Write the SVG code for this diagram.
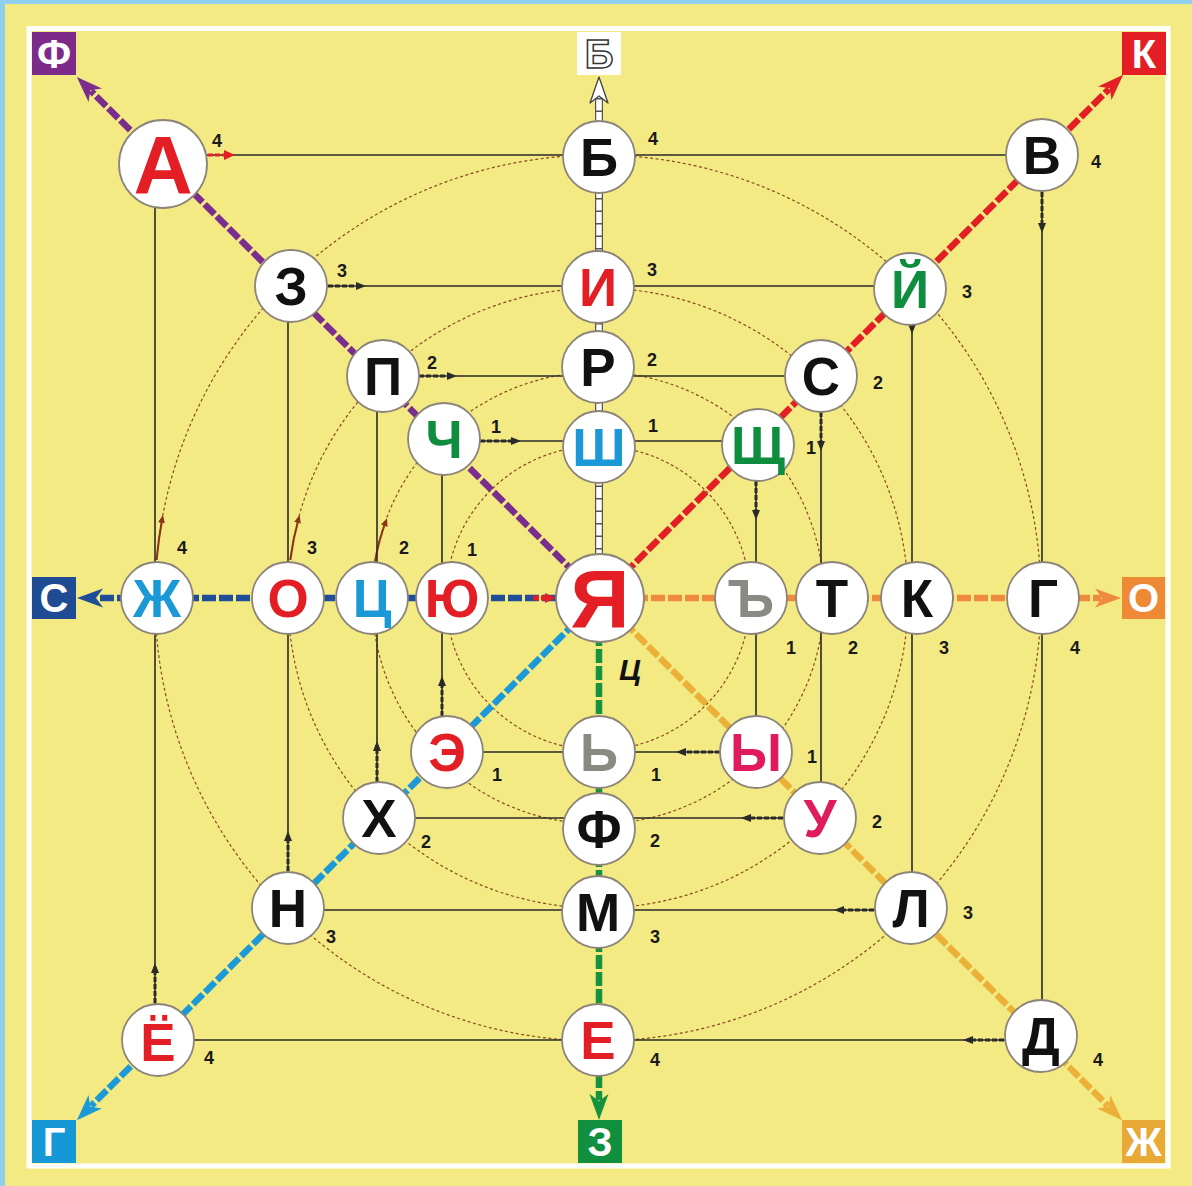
<svg xmlns="http://www.w3.org/2000/svg" width="1192" height="1186" viewBox="0 0 1192 1186">
<style>
.sq{fill:none;stroke:#2a2a2a;stroke-width:1.6}
.arr{fill:none;stroke:#2a2a2a;stroke-width:3;stroke-dasharray:5 2;marker-end:url(#ah)}
.orbit{fill:none;stroke:#8a4a20;stroke-width:1.2;stroke-dasharray:3 2.5}
.barr{fill:none;stroke:#8a3418;stroke-width:2;marker-end:url(#bh)}
.axis{fill:none;stroke-width:6.5;stroke-dasharray:14 3}
.node circle{fill:#fff;stroke:#8c8478;stroke-width:1.8}
.L{font-family:"Liberation Sans",Arial,sans-serif;font-weight:bold;font-size:53px;text-anchor:middle}
.big{font-size:82px}
.num{font-family:"Liberation Sans",Arial,sans-serif;font-weight:bold;font-size:18px;fill:#1a1a1a;text-anchor:middle}
.box text{font-family:"Liberation Sans",Arial,sans-serif;font-weight:bold;font-size:40px;fill:#fff;text-anchor:middle}
.k{fill:#111}.r{fill:#e31e24}.g{fill:#0f8d3f}.b{fill:#1a99d6}.gr{fill:#8a8a84}.m{fill:#e01b5c}
</style>
<defs>
<marker id="mk-purple" viewBox="-26 -10 26 20" refX="-20" refY="0" markerWidth="26" markerHeight="20" markerUnits="userSpaceOnUse" orient="auto"><path d="M0,0 L-26,-9.5 L-19,0 L-26,9.5 Z" fill="#7b2d8e"/></marker>
<marker id="mk-red" viewBox="-26 -10 26 20" refX="-20" refY="0" markerWidth="26" markerHeight="20" markerUnits="userSpaceOnUse" orient="auto"><path d="M0,0 L-26,-9.5 L-19,0 L-26,9.5 Z" fill="#e31e24"/></marker>
<marker id="mk-dblue" viewBox="-26 -10 26 20" refX="-20" refY="0" markerWidth="26" markerHeight="20" markerUnits="userSpaceOnUse" orient="auto"><path d="M0,0 L-26,-9.5 L-19,0 L-26,9.5 Z" fill="#1f4e99"/></marker>
<marker id="mk-orange" viewBox="-26 -10 26 20" refX="-20" refY="0" markerWidth="26" markerHeight="20" markerUnits="userSpaceOnUse" orient="auto"><path d="M0,0 L-26,-9.5 L-19,0 L-26,9.5 Z" fill="#ef8a3c"/></marker>
<marker id="mk-lblue" viewBox="-26 -10 26 20" refX="-20" refY="0" markerWidth="26" markerHeight="20" markerUnits="userSpaceOnUse" orient="auto"><path d="M0,0 L-26,-9.5 L-19,0 L-26,9.5 Z" fill="#1b9ad7"/></marker>
<marker id="mk-green" viewBox="-26 -10 26 20" refX="-20" refY="0" markerWidth="26" markerHeight="20" markerUnits="userSpaceOnUse" orient="auto"><path d="M0,0 L-26,-9.5 L-19,0 L-26,9.5 Z" fill="#17923e"/></marker>
<marker id="mk-gold" viewBox="-26 -10 26 20" refX="-20" refY="0" markerWidth="26" markerHeight="20" markerUnits="userSpaceOnUse" orient="auto"><path d="M0,0 L-26,-9.5 L-19,0 L-26,9.5 Z" fill="#eab037"/></marker>
<marker id="mk-white" viewBox="-27 -11 28 22" refX="-20" refY="0" markerWidth="28" markerHeight="22" markerUnits="userSpaceOnUse" orient="auto"><path d="M0,0 L-26,-9 L-19,0 L-26,9 Z" fill="#fff" stroke="#444" stroke-width="1.3" stroke-linejoin="round"/></marker>
<marker id="ah" viewBox="0 0 10 8" refX="6" refY="4" markerWidth="10" markerHeight="8" markerUnits="userSpaceOnUse" orient="auto"><path d="M0,0 L10,4 L0,8 Z" fill="#2a2a2a"/></marker>
<marker id="rh" viewBox="0 0 11 10" refX="6" refY="5" markerWidth="11" markerHeight="10" markerUnits="userSpaceOnUse" orient="auto"><path d="M0,0 L11,5 L0,10 Z" fill="#e31e24"/></marker>
<marker id="bh" viewBox="0 0 8 7" refX="5" refY="3.5" markerWidth="8" markerHeight="7" markerUnits="userSpaceOnUse" orient="auto"><path d="M0,0 L8,3.5 L0,7 Z" fill="#8a3418"/></marker>
</defs>

<rect width="1192" height="1186" fill="#f3ea84"/>
<rect x="0" y="0" width="1192" height="4" fill="#8ecfee"/>
<rect x="0" y="0" width="5" height="1186" fill="#8ecfee"/>
<rect x="29" y="28.5" width="1139" height="1137.5" fill="none" stroke="#fff" stroke-width="5"/>

<g id="connectors">
  <g id="orbits">
    <circle class="orbit" cx="598" cy="598" r="443"/>
    <circle class="orbit" cx="598" cy="598" r="310"/>
    <circle class="orbit" cx="598" cy="598" r="226"/>
    <circle class="orbit" cx="598" cy="598" r="152"/>
    <path class="barr" d="M156.6,560 A443,443 0 0 1 162.4,518"/>
    <path class="barr" d="M290.3,560 A310,310 0 0 1 298.8,518"/>
    <path class="barr" d="M374.9,562 A226,226 0 0 1 386,521"/>
  </g>
  <g id="squares">
    <path class="sq" d="M155,155 H1042 V1040 H155 Z"/>
    <path class="sq" d="M288,286 H912 V910 H288 Z"/>
    <path class="sq" d="M377,376 H821 V818 H377 Z"/>
    <path class="sq" d="M442,441 H756 V752 H442 Z"/>
  </g>
  <g id="square-arrows">
    <path d="M208,155 H230" fill="none" stroke="#e31e24" stroke-width="3" stroke-dasharray="5 2" marker-end="url(#rh)"/>
    <path class="arr" d="M1042,192 V229"/>
    <path class="arr" d="M1004,1040 H967"/>
    <path class="arr" d="M155,1003 V967"/>
    <path class="arr" d="M328,286 H362"/>
    <path class="arr" d="M912,326 V330"/>
    <path class="arr" d="M874,910 H838"/>
    <path class="arr" d="M288,871 V835"/>
    <path class="arr" d="M419,376 H453"/>
    <path class="arr" d="M821,412 V447"/>
    <path class="arr" d="M783,818 H745"/>
    <path class="arr" d="M377,782 V745"/>
    <path class="arr" d="M480,441 H517"/>
    <path class="arr" d="M756,481 V516"/>
    <path class="arr" d="M720,752 H680"/>
    <path class="arr" d="M442,716 V680"/>
  </g>
  <g id="axes">
    <path class="axis" stroke="#7b2d8e" d="M600,598 L91,91" marker-end="url(#mk-purple)"/>
    <path class="axis" stroke="#e31e24" d="M600,598 L1109,89" marker-end="url(#mk-red)"/>
    <path class="axis" stroke="#1f4e99" d="M556,598 L97,598" marker-end="url(#mk-dblue)"/>
    <path d="M533,598 H551" fill="none" stroke="#e31e24" stroke-width="5" stroke-dasharray="6 2" marker-end="url(#rh)"/>
    <path class="axis" stroke="#ef8a3c" d="M600,598 L1101,598" marker-end="url(#mk-orange)"/>
    <path class="axis" stroke="#1b9ad7" d="M600,598 L91,1106" marker-end="url(#mk-lblue)"/>
    <path class="axis" stroke="#17923e" d="M599,598 L599,1100" marker-end="url(#mk-green)"/>
    <path class="axis" stroke="#eab037" d="M600,598 L1108,1106" marker-end="url(#mk-gold)"/>
    <path d="M599,598 V98" fill="none" stroke="#555" stroke-width="8"/>
    <path d="M599,598 V97" fill="none" stroke="#fff" stroke-width="5.5" stroke-dasharray="11 1.5" marker-end="url(#mk-white)"/>
  </g>
</g>

<g id="boxes" class="box">
  <g id="box-F"><rect x="32" y="32" width="44" height="43" fill="#7d2b8b"/><text x="54" y="68">Ф</text></g>
  <g id="box-B"><rect x="577" y="32" width="44" height="43" fill="#fff"/><text x="599" y="68" fill="#fff" stroke="#333" stroke-width="1.5">Б</text></g>
  <g id="box-K"><rect x="1122" y="32" width="44" height="43" fill="#e31e24"/><text x="1144" y="68">К</text></g>
  <g id="box-S"><rect x="32" y="577" width="44" height="42" fill="#1f4a94"/><text x="54" y="612">С</text></g>
  <g id="box-O"><rect x="1122" y="577" width="43" height="42" fill="#ee8a35"/><text x="1143.5" y="612">О</text></g>
  <g id="box-G"><rect x="32" y="1120" width="44" height="43" fill="#1598d5"/><text x="54" y="1156">Г</text></g>
  <g id="box-Z"><rect x="578" y="1120" width="44" height="43" fill="#108f3f"/><text x="600" y="1156">З</text></g>
  <g id="box-Zh"><rect x="1122" y="1120" width="43" height="43" fill="#e8a937"/><text x="1143.5" y="1156">Ж</text></g>
</g>

<g id="nodes">
  <g id="n-A" class="node"><circle cx="163" cy="164" r="44"/><text class="L big r" x="163" y="193">А</text><text class="num" x="217" y="147">4</text></g>
  <g id="n-B" class="node"><circle cx="599" cy="157" r="36"/><text class="L k" x="599" y="176">Б</text><text class="num" x="653" y="145">4</text></g>
  <g id="n-V" class="node"><circle cx="1042" cy="155" r="36"/><text class="L k" x="1042" y="174">В</text><text class="num" x="1096" y="168">4</text></g>
  <g id="n-G" class="node"><circle cx="1043" cy="598" r="36"/><text class="L k" x="1043" y="617">Г</text><text class="num" x="1075" y="654">4</text></g>
  <g id="n-D" class="node"><circle cx="1041" cy="1036" r="36"/><text class="L k" x="1041" y="1055">Д</text><text class="num" x="1098" y="1066">4</text></g>
  <g id="n-E" class="node"><circle cx="598" cy="1040" r="36"/><text class="L r" x="598" y="1059">Е</text><text class="num" x="655" y="1066">4</text></g>
  <g id="n-Yo" class="node"><circle cx="158" cy="1040" r="36"/><text class="L r" x="158" y="1061">Ё</text><text class="num" x="209" y="1064">4</text></g>
  <g id="n-Zh" class="node"><circle cx="157" cy="598" r="36"/><text class="L b" x="157" y="617">Ж</text><text class="num" x="182" y="554">4</text></g>
  <g id="n-Z" class="node"><circle cx="291" cy="286" r="36"/><text class="L k" x="291" y="305">З</text><text class="num" x="342" y="277">3</text></g>
  <g id="n-I" class="node"><circle cx="598" cy="287" r="36"/><text class="L r" x="598" y="306">И</text><text class="num" x="652" y="276">3</text></g>
  <g id="n-J" class="node"><circle cx="910" cy="289" r="36"/><text class="L g" x="910" y="308">Й</text><text class="num" x="967" y="298">3</text></g>
  <g id="n-K" class="node"><circle cx="917" cy="598" r="36"/><text class="L k" x="917" y="617">К</text><text class="num" x="944" y="654">3</text></g>
  <g id="n-L" class="node"><circle cx="911" cy="908" r="36"/><text class="L k" x="911" y="927">Л</text><text class="num" x="968" y="919">3</text></g>
  <g id="n-M" class="node"><circle cx="598" cy="912" r="36"/><text class="L k" x="598" y="931">М</text><text class="num" x="655" y="943">3</text></g>
  <g id="n-N" class="node"><circle cx="288" cy="908" r="36"/><text class="L k" x="288" y="927">Н</text><text class="num" x="331" y="943">3</text></g>
  <g id="n-O" class="node"><circle cx="288" cy="598" r="36"/><text class="L r" x="288" y="617">О</text><text class="num" x="312" y="554">3</text></g>
  <g id="n-P" class="node"><circle cx="383" cy="376" r="36"/><text class="L k" x="383" y="395">П</text><text class="num" x="432" y="369">2</text></g>
  <g id="n-R" class="node"><circle cx="598" cy="367" r="36"/><text class="L k" x="598" y="386">Р</text><text class="num" x="652" y="366">2</text></g>
  <g id="n-S" class="node"><circle cx="821" cy="376" r="36"/><text class="L k" x="821" y="395">С</text><text class="num" x="878" y="389">2</text></g>
  <g id="n-T" class="node"><circle cx="832" cy="598" r="36"/><text class="L k" x="832" y="617">Т</text><text class="num" x="853" y="654">2</text></g>
  <g id="n-U" class="node"><circle cx="820" cy="818" r="36"/><text class="L m" x="820" y="837">У</text><text class="num" x="877" y="828">2</text></g>
  <g id="n-F" class="node"><circle cx="599" cy="829" r="36"/><text class="L k" x="599" y="848">Ф</text><text class="num" x="655" y="847">2</text></g>
  <g id="n-H" class="node"><circle cx="379" cy="818" r="36"/><text class="L k" x="379" y="837">Х</text><text class="num" x="426" y="848">2</text></g>
  <g id="n-C" class="node"><circle cx="372" cy="598" r="36"/><text class="L b" x="372" y="617">Ц</text><text class="num" x="404" y="554">2</text></g>
  <g id="n-Ch" class="node"><circle cx="444" cy="439" r="36"/><text class="L g" x="444" y="458">Ч</text><text class="num" x="496" y="433">1</text></g>
  <g id="n-Sh" class="node"><circle cx="599" cy="447" r="36"/><text class="L b" x="599" y="466">Ш</text><text class="num" x="653" y="432">1</text></g>
  <g id="n-Shch" class="node"><circle cx="758" cy="445" r="36"/><text class="L g" x="758" y="464">Щ</text><text class="num" x="811" y="454">1</text></g>
  <g id="n-Hard" class="node"><circle cx="751" cy="598" r="36"/><text class="L gr" x="751" y="617">Ъ</text><text class="num" x="791" y="654">1</text></g>
  <g id="n-Y" class="node"><circle cx="756" cy="752" r="36"/><text class="L m" x="756" y="771">Ы</text><text class="num" x="812" y="763">1</text></g>
  <g id="n-Soft" class="node"><circle cx="599" cy="752" r="36"/><text class="L gr" x="599" y="771">Ь</text><text class="num" x="656" y="781">1</text></g>
  <g id="n-Ee" class="node"><circle cx="447" cy="752" r="36"/><text class="L r" x="447" y="771">Э</text><text class="num" x="497" y="781">1</text></g>
  <g id="n-Yu" class="node"><circle cx="452" cy="598" r="36"/><text class="L r" x="452" y="617">Ю</text><text class="num" x="472" y="556">1</text></g>
  <g id="n-Ya" class="node"><circle cx="600" cy="598" r="44"/><text class="L big r" x="600" y="627">Я</text></g>
</g>
<text x="630" y="680" font-family="Liberation Sans, Arial, sans-serif" font-weight="bold" font-style="italic" font-size="30" fill="#111" text-anchor="middle">Ц</text>
</svg>
